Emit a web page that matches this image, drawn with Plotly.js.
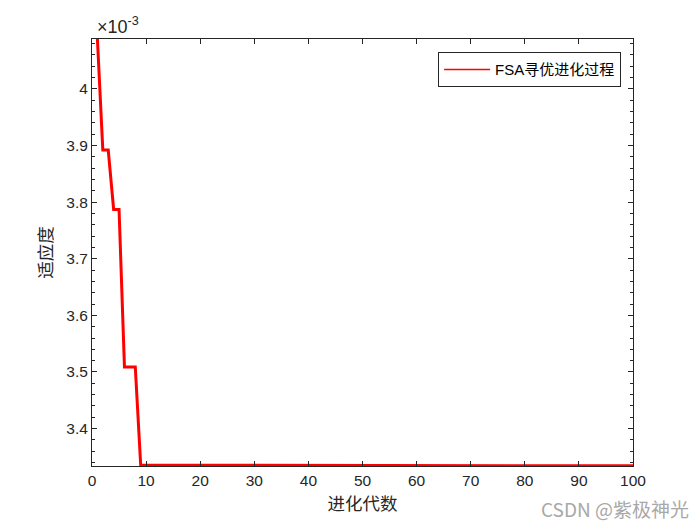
<!DOCTYPE html>
<html>
<head>
<meta charset="utf-8">
<script src="https://cdn.plot.ly/plotly-3.0.1.min.js"></script>
<style>html,body{margin:0;padding:0;background:#fff;}#chart{width:700px;height:525px;}</style>
</head>
<body>
<div id="chart"></div>
<script>
// Generations (x) and fitness values (in units of 1e-3)
const generations = [1, 2, 3, 4, 5, 6, 7, 8, 9, 24, 25, 55, 56, 100];
const fitness = [4.088, 3.892, 3.892, 3.787, 3.787, 3.509, 3.509, 3.509, 3.3355, 3.3355, 3.3347, 3.3347, 3.3343, 3.3343];
const seriesName = 'FSA寻优进化过程';
const xTitle = '进化代数';
const yTitle = '适应度';
const xTicks = [0, 10, 20, 30, 40, 50, 60, 70, 80, 90, 100];
const yTicks = [3.4, 3.5, 3.6, 3.7, 3.8, 3.9, 4];
const yTickLabels = ['3.4', '3.5', '3.6', '3.7', '3.8', '3.9', '4'];
const watermark = 'CSDN @紫极神光';

const axisColor = '#262626';
const font = {family: 'Liberation Sans, Arial, sans-serif', size: 15.5, color: axisColor};

const traces = [
  {x: generations, y: fitness, type: 'scatter', mode: 'lines',
   line: {color: '#ff0000', width: 3}, showlegend: false, hoverinfo: 'skip'},
  {x: [null], y: [null], type: 'scatter', mode: 'lines', name: seriesName,
   line: {color: '#ff0000', width: 1.5}, showlegend: true}
];

const layout = {
  width: 700, height: 525,
  margin: {l: 92, r: 67, t: 39, b: 59, pad: 0},
  paper_bgcolor: '#ffffff', plot_bgcolor: '#ffffff',
  font: font,
  showlegend: true,
  legend: {x: 0.978, y: 0.969, xanchor: 'right', yanchor: 'top',
           bgcolor: '#ffffff', bordercolor: axisColor, borderwidth: 1,
           font: {family: 'Liberation Sans, Noto Sans CJK SC, sans-serif', size: 15, color: '#000'},
           itemwidth: 46},
  xaxis: {range: [0, 100], tickvals: xTicks, ticktext: xTicks.map(String),
          showgrid: false, zeroline: false, showline: true, linecolor: axisColor, linewidth: 1,
          mirror: 'ticks', ticks: 'inside', ticklen: 5, tickcolor: axisColor,
          tickfont: font,
          title: {text: xTitle, font: {family: 'Noto Sans CJK SC, sans-serif', size: 17.5, color: axisColor}, standoff: 10}},
  yaxis: {range: [3.334, 4.088], tickvals: yTicks, ticktext: yTickLabels,
          showgrid: false, zeroline: false, showline: true, linecolor: axisColor, linewidth: 1,
          mirror: 'ticks', ticks: 'inside', ticklen: 5, tickcolor: axisColor,
          tickfont: font,
          minor: {ticks: 'inside', ticklen: 3, dtick: 0.02, tick0: 3.4, tickcolor: axisColor, showgrid: false},
          title: {text: yTitle, font: {family: 'Noto Sans CJK SC, sans-serif', size: 17.5, color: axisColor}, standoff: 9}},
  annotations: [
    {xref: 'paper', yref: 'paper', x: 0.0, y: 1.0, xanchor: 'left', yanchor: 'bottom',
     xshift: 3, yshift: 0, showarrow: false,
     text: '×10<sup>-3</sup>', font: {family: 'Liberation Sans, Arial, sans-serif', size: 18, color: axisColor}},
    {xref: 'paper', yref: 'paper', x: 1.0, y: 0, xanchor: 'right', yanchor: 'top',
     xshift: 58, yshift: -27, showarrow: false,
     text: watermark, font: {family: 'Noto Sans CJK SC, sans-serif', size: 19, color: '#a8a8a8'}}
  ]
};

Plotly.newPlot('chart', traces, layout, {displayModeBar: false, staticPlot: true});
</script>
</body>
</html>
